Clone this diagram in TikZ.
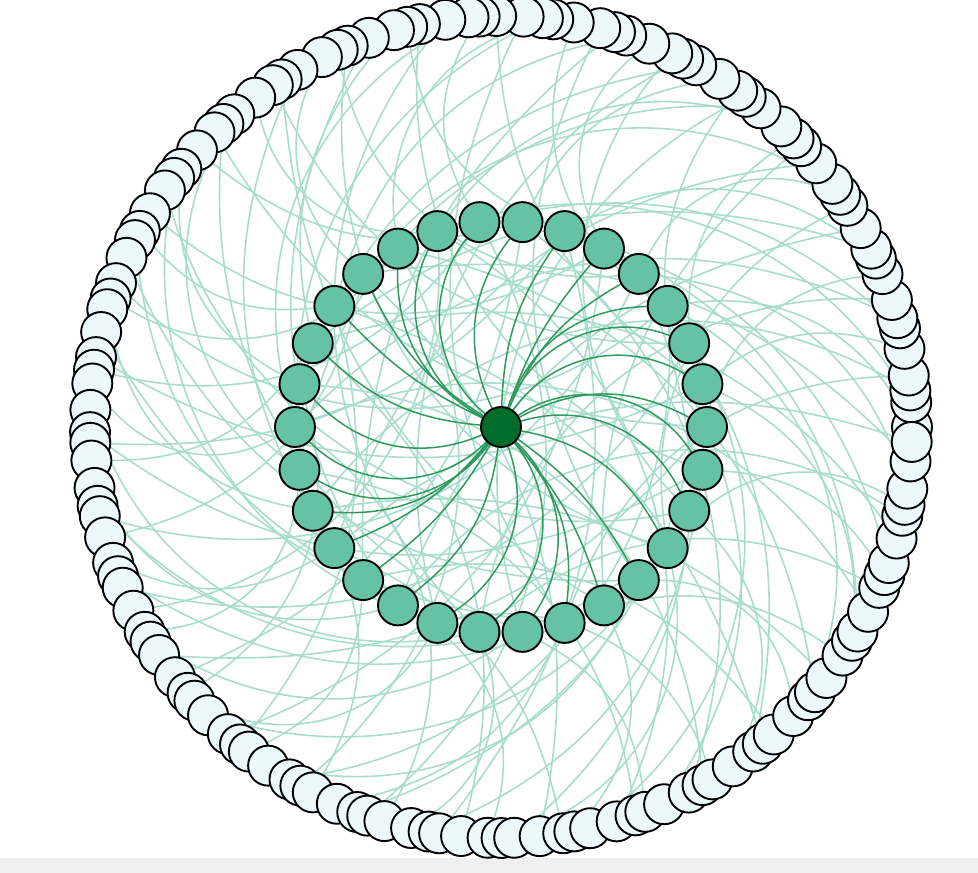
\documentclass[tikz,border=0pt]{standalone}
\usepackage{tikz}
\definecolor{hubgreen}{HTML}{006D2C}
\definecolor{midgreen}{HTML}{66C2A4}
\definecolor{palegreen}{HTML}{EDF8FB}
\definecolor{spokegreen}{HTML}{2E9A5E}
\definecolor{leafgreen}{HTML}{A8DDCE}
\pgfdeclarelayer{leaflayer}
\pgfdeclarelayer{spokelayer}
\pgfsetlayers{leaflayer,spokelayer,main}

\begin{document}
\begin{tikzpicture}[x=1pt, y=1pt,
  dot/.style={circle, draw=black, line width=1.9pt, minimum size=40pt, inner sep=0pt},
  hub/.style={dot, fill=hubgreen},
  ring/.style={dot, fill=midgreen},
  leaf/.style={dot, fill=palegreen},
  spoke/.style={draw=spokegreen, line width=1.5pt},
  link/.style={draw=leafgreen, line width=1.6pt}]

  \useasboundingbox (-501,-446) rectangle (477,427);

  % page strip at the bottom
  \fill[black!6] (-501,-446) rectangle (477,-431);

  % centre node
  \node[hub] (c) at (0,0) {};

  % inner ring
  \foreach \i [evaluate=\i as \b using {28+18*sin(\i*53)}] in {0,...,29} {
    \node[ring] (n\i) at ({12*\i}:206) {};
    \begin{pgfonlayer}{spokelayer}
      \draw[spoke] (c) to[bend left=\b] (n\i);
    \end{pgfonlayer}
  }

  % outer ring, each leaf hangs on one inner node
  \foreach \i [evaluate=\i as \a using {\i*2.647 + 0.8*sin(\i*97)},
               evaluate=\i as \p using {int(mod(7*\i+3,30))},
               evaluate=\i as \b using {34+8*sin(\i*61)}] in {0,...,135} {
    \node[leaf] (o\i) at (\a:411) {};
    \begin{pgfonlayer}{leaflayer}
      \draw[link] (n\p) to[bend left=\b] (o\i);
    \end{pgfonlayer}
  }

\end{tikzpicture}
\end{document}
